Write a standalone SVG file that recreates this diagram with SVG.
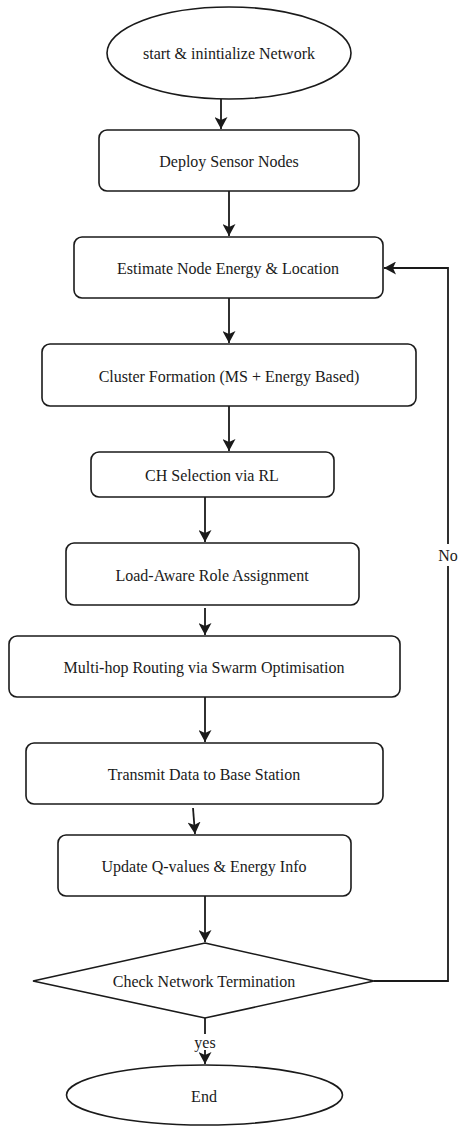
<svg xmlns="http://www.w3.org/2000/svg" width="460" height="1126" viewBox="0 0 460 1126">
<style>
.n{fill:#fff;stroke:#1a1a1a;stroke-width:1.6}
.t{font-family:'Liberation Serif','Times New Roman',Times,'DejaVu Serif',serif;font-size:16px;fill:#1a1a1a;text-anchor:middle;dominant-baseline:central}
.c{fill:none;stroke:#1a1a1a;stroke-width:1.8}
</style>
<defs>
<marker id="a" markerUnits="userSpaceOnUse" markerWidth="13" markerHeight="13" refX="12" refY="6.5" orient="auto">
<path d="M0,0 L12,6.5 L0,13 L3,6.5 Z" fill="#1a1a1a"/>
</marker>
</defs>
<rect width="460" height="1126" fill="#fff"/>
<g id="connectors">
<path class="c" d="M221,99 V129" marker-end="url(#a)"/>
<path class="c" d="M229,191 V236" marker-end="url(#a)"/>
<path class="c" d="M229,298 V343" marker-end="url(#a)"/>
<path class="c" d="M229,406 V451" marker-end="url(#a)"/>
<path class="c" d="M205,497 V542" marker-end="url(#a)"/>
<path class="c" d="M205,608 V635" marker-end="url(#a)"/>
<path class="c" d="M205,697 V742" marker-end="url(#a)"/>
<path class="c" d="M193,808 L195,834" marker-end="url(#a)"/>
<path class="c" d="M205,896 V942" marker-end="url(#a)"/>
<path class="c" d="M205,1018 V1064" marker-end="url(#a)"/>
<path class="c" d="M374,981 H448 V268 H384" marker-end="url(#a)"/>
<rect x="437" y="544" width="23" height="22" fill="#fff"/>
<text class="t" x="448" y="555" font-family="Liberation Serif, serif">No</text>
<rect x="192" y="1034" width="26" height="16" fill="#fff"/>
<text class="t" x="205" y="1042" font-family="Liberation Serif, serif">yes</text>
</g>
<g id="start">
<ellipse class="n" cx="229" cy="53" rx="122" ry="46"/>
<text class="t" x="229" y="53" font-family="Liberation Serif, serif">start &amp; inintialize Network</text>
</g>
<g id="deploy">
<rect class="n" x="99" y="130" width="260" height="61" rx="8"/>
<text class="t" x="229" y="161" font-family="Liberation Serif, serif">Deploy Sensor Nodes</text>
</g>
<g id="estimate">
<rect class="n" x="74" y="237" width="309" height="61" rx="8"/>
<text class="t" x="228" y="268" font-family="Liberation Serif, serif">Estimate Node Energy &amp; Location</text>
</g>
<g id="cluster">
<rect class="n" x="42" y="344" width="374" height="62" rx="8"/>
<text class="t" x="229" y="376" font-family="Liberation Serif, serif">Cluster Formation (MS + Energy Based)</text>
</g>
<g id="ch">
<rect class="n" x="91" y="452" width="243" height="45" rx="8"/>
<text class="t" x="212" y="475" font-family="Liberation Serif, serif">CH Selection via RL</text>
</g>
<g id="load">
<rect class="n" x="66" y="543" width="293" height="62" rx="8"/>
<text class="t" x="212" y="575" font-family="Liberation Serif, serif">Load-Aware Role Assignment</text>
</g>
<g id="multihop">
<rect class="n" x="9" y="636" width="391" height="61" rx="8"/>
<text class="t" x="204" y="667" font-family="Liberation Serif, serif">Multi-hop Routing via Swarm Optimisation</text>
</g>
<g id="transmit">
<rect class="n" x="26" y="743" width="357" height="61" rx="8"/>
<text class="t" x="204" y="774" font-family="Liberation Serif, serif">Transmit Data to Base Station</text>
</g>
<g id="update">
<rect class="n" x="58" y="835" width="293" height="61" rx="8"/>
<text class="t" x="204" y="866" font-family="Liberation Serif, serif">Update Q-values &amp; Energy Info</text>
</g>
<g id="check">
<polygon class="n" points="205,943 374,981 205,1018 33,981"/>
<text class="t" x="204" y="981" font-family="Liberation Serif, serif">Check Network Termination</text>
</g>
<g id="end">
<ellipse class="n" cx="204.5" cy="1095" rx="138" ry="30"/>
<text class="t" x="204" y="1096" font-family="Liberation Serif, serif">End</text>
</g>
</svg>
